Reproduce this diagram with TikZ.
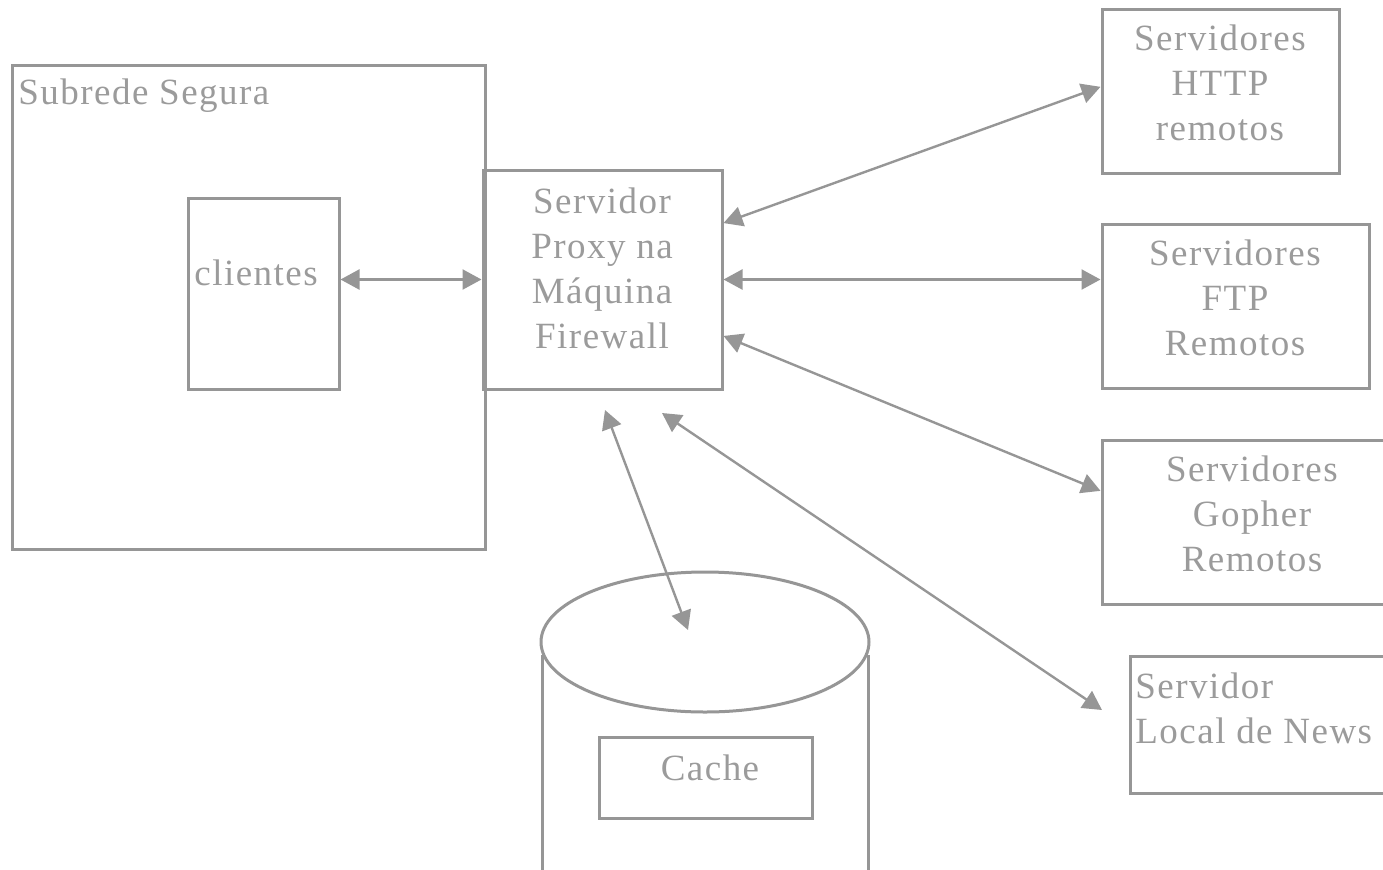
\documentclass[tikz,border=0pt]{standalone}
\usepackage{fontspec}
\setmainfont{Liberation Serif}[LetterSpace=4]
\usepackage{tikz}
\usetikzlibrary{arrows.meta, positioning}

\definecolor{linegray}{RGB}{150,150,150}
\definecolor{textgray}{RGB}{155,155,155}

\begin{document}
\begin{tikzpicture}[
    x=0.5pt, y=-0.5pt,
    box/.style={draw=linegray, line width=1.5pt, inner sep=0pt},
    txt/.style={text=textgray, align=center, inner sep=0pt,
                font=\fontsize{18.5}{22.5}\selectfont},
    arr/.style={{Triangle[length=9.5pt,width=10pt]}-{Triangle[length=9.5pt,width=10pt]},
                draw=linegray, line width=1.2pt}
]
    \useasboundingbox (0,0) rectangle (1383,869);

    % boxes
    \node[box, minimum width=236.75pt, minimum height=242pt] (subrede) at (248.75,307) {};
    \node[box, minimum width=75.5pt, minimum height=95.5pt] (cli) at (263.5,293.5) {};
    \node[box, minimum width=119.5pt, minimum height=109.5pt] (fw) at (602.5,279.5) {};
    \node[box, minimum width=118.5pt, minimum height=82pt] (http) at (1220.5,91) {};
    \node[box, minimum width=133.5pt, minimum height=82pt] (ftp) at (1235.5,306) {};
    \node[box, minimum width=145pt, minimum height=82pt] (gopher) at (1247,522) {};
    \node[box, minimum width=131pt, minimum height=68.5pt] (news) at (1261,724.5) {};

    % cylinder
    \draw[linegray, line width=1.5pt] (542,655) -- (542,880) (868,655) -- (868,880);
    \draw[linegray, line width=1.5pt, fill=white] (705,642) ellipse [x radius=164, y radius=70];
    \node[box, minimum width=106.5pt, minimum height=40.5pt] (cache) at (705.5,777.5) {};

    % texts
    \node[txt, anchor=west] (subredetxt) at (18,96) {Subrede Segura};
    \node[txt, anchor=west] (clitxt) at (194,273) {clientes};
    \node[txt] (fwtxt) at (602,268) {Servidor\\Proxy na\\Máquina\\Firewall};
    \node[txt] (httptxt) at (1220,83) {Servidores\\HTTP\\remotos};
    \node[txt] (ftptxt) at (1235,298) {Servidores\\FTP\\Remotos};
    \node[txt] (gophertxt) at (1252,514) {Servidores\\Gopher\\Remotos};
    \node[txt, anchor=west, align=left] (newstxt) at (1135,708.5) {Servidor\\Local de News};
    \node[txt] (cachetxt) at (710,768) {Cache};

    % free ends
    \coordinate (cacheA) at (605,410);
    \coordinate (cacheB) at (688,630);
    \coordinate (newsA) at (662,413);
    \coordinate (newsB) at (1102,710);

    \draw[arr] (fw.west -| cli.east) -- (fw.west);
    \draw[arr] (fw.25.7) -- (http.178.5);
    \draw[arr] (fw.east) -- (fw.east -| ftp.west);
    \draw[arr] (fw.-25.3) -- (gopher.168);
    \draw[arr] (newsA) -- (newsB);
    \draw[arr] (cacheA) -- (cacheB);
\end{tikzpicture}
\end{document}
